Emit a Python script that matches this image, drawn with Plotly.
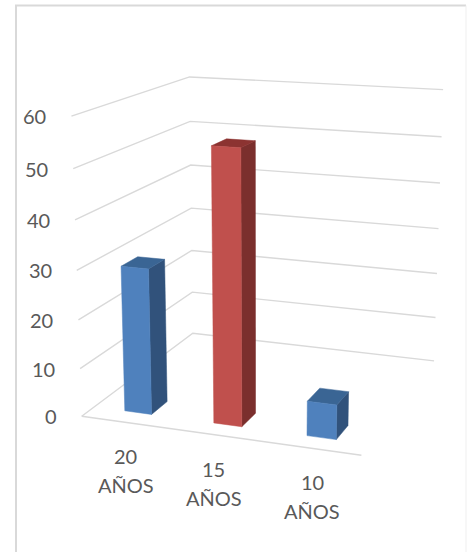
import numpy as np
import plotly.graph_objects as go

# ---- data ----
categories = ["20 AÑOS", "15 AÑOS", "10 AÑOS"]
values = [30, 55, 7]
bar_colors = ["blue", "red", "blue"]
z_ticks = [0, 10, 20, 30, 40, 50, 60]

# ---- styles ----
W, H = 467, 552
FACE = {"blue": {"front": "#4F81BD", "side": "#31527B", "top": "#3A6594"},
        "red": {"front": "#C0504D", "side": "#7B2F2D", "top": "#8C3331"}}
GRID = "#D9D9D9"
TEXT = "#595959"
FONT = dict(family="Lato", size=20, color=TEXT)
BAR_X0, BAR_X1 = 0.35, 0.655
BAR_Y0, BAR_Y1 = 0.10, 0.235
LABEL_DX = [0, -3, 0]

# ---- 3D view of the chart box (x: category, y: depth 0..1, z: value) ----
EYE = np.array([1.6830, -4.6833, 1.2872])
CENTER = np.array([-0.0278, -0.1030, -0.0437])
UP = np.array([0.0009, 0.0024, 1.0])
BOX = np.array([1.0, 0.9929, 1.0415])
FOCAL = 1202.3891 / 2 / np.tan(np.pi / 8)
ORIGIN = (249.9546, 266.7652)
_f = (CENTER - EYE) / np.linalg.norm(CENTER - EYE)
_r = np.cross(_f, UP); _r /= np.linalg.norm(_r)
_t = np.cross(_r, _f)


def view(x, y, z):
    s = (np.array([x, y, z], float) - np.array([1.5, 0.5, 30])) / np.array([3, 1, 60]) * BOX
    d = s - EYE
    depth = d @ _f
    return ORIGIN[0] + FOCAL * (d @ _r) / depth, ORIGIN[1] - FOCAL * (d @ _t) / depth


def polyline(corners):
    pts = [view(*c) for c in corners]
    return [p[0] for p in pts], [p[1] for p in pts]


fig = go.Figure()


def line(corners):
    xs, ys = polyline(corners)
    fig.add_trace(go.Scatter(x=xs, y=ys, mode="lines", line=dict(color=GRID, width=1.4),
                             hoverinfo="skip"))


def face(corners, color):
    xs, ys = polyline(corners + corners[:1])
    fig.add_trace(go.Scatter(x=xs, y=ys, mode="lines", fill="toself", fillcolor=color,
                             line=dict(color=color, width=0.5), hoverinfo="skip"))


n = len(categories)
for v in z_ticks:
    line([(0, 0, v), (0, 1, v), (n, 1, v)])
line([(0, 0, 0), (n, 0, 0)])

for i, (v, c) in enumerate(zip(values, bar_colors)):
    a, b = i + BAR_X0, i + BAR_X1
    p, q = BAR_Y0, BAR_Y1
    col = FACE[c]
    face([(b, p, 0), (b, q, 0), (b, q, v), (b, p, v)], col["side"])
    face([(a, p, v), (b, p, v), (b, q, v), (a, q, v)], col["top"])
    face([(a, p, 0), (b, p, 0), (b, p, v), (a, p, v)], col["front"])

annotations = []
for v in z_ticks:
    x, y = view(0, 0, v)
    annotations.append(dict(x=x, y=y, text=str(v), showarrow=False, xanchor="right", yanchor="middle",
                            xshift=-23, font=FONT))
for i, name in enumerate(categories):
    x, y = view(i + 0.5, 0, 0)
    num, word = name.split(" ")
    annotations.append(dict(x=x, y=y, text=num, showarrow=False, xanchor="center", yanchor="middle",
                            xshift=LABEL_DX[i], yshift=-33.5, font=FONT))
    annotations.append(dict(x=x, y=y, text=word, showarrow=False, xanchor="center", yanchor="middle",
                            xshift=LABEL_DX[i], yshift=-62.5, font=FONT))

frame = dict(type="line", xref="paper", yref="paper", layer="below")
shapes = [
    dict(frame, x0=16 / W, x1=16 / W, y0=0, y1=1 - 5.5 / H, line=dict(color=GRID, width=2)),
    dict(frame, x0=15 / W, x1=466 / W, y0=1 - 5.5 / H, y1=1 - 5.5 / H, line=dict(color=GRID, width=2)),
    dict(frame, x0=466 / W, x1=466 / W, y0=0, y1=1 - 5.5 / H, line=dict(color="#EFEFEF", width=1)),
]

hidden = dict(visible=False, showgrid=False, zeroline=False, fixedrange=True)
fig.update_layout(width=W, height=H, margin=dict(l=0, r=0, t=0, b=0), showlegend=False,
                  paper_bgcolor="white", plot_bgcolor="white",
                  xaxis=dict(hidden, range=[0, W]), yaxis=dict(hidden, range=[H, 0]),
                  annotations=annotations, shapes=shapes, font=dict(family="Lato"))
fig.write_html("out.html", config={"displayModeBar": False},
               post_script="document.body.style.margin='0';document.body.style.overflow='hidden';")
